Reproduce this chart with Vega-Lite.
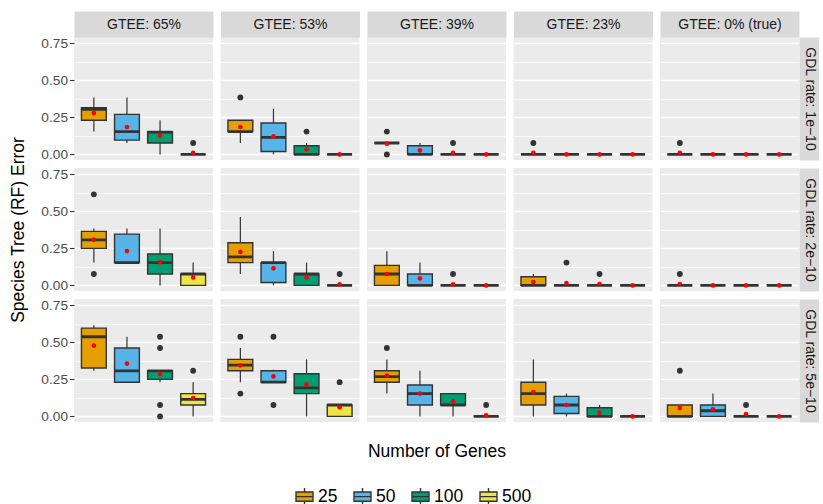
{
"$schema":"https://vega.github.io/schema/vega-lite/v6.json",
"background":"white",
"padding":{"left":9,"top":17,"right":2,"bottom":0},
"autosize":{"type":"pad"},
"data":{"values":[
{"k":"b","r":"1e-10","c":"65%","g":25,"lo":0.154,"q1":0.231,"md":0.305,"q3":0.315,"hi":0.385,"mn":0.279},
{"k":"b","r":"1e-10","c":"65%","g":50,"lo":0.077,"q1":0.096,"md":0.154,"q3":0.27,"hi":0.385,"mn":0.185},
{"k":"b","r":"1e-10","c":"65%","g":100,"lo":0,"q1":0.077,"md":0.15,"q3":0.154,"hi":0.231,"mn":0.125},
{"k":"b","r":"1e-10","c":"65%","g":500,"lo":0,"q1":0,"md":0,"q3":0,"hi":0,"mn":0.011},
{"k":"o","r":"1e-10","c":"65%","g":500,"v":0.077},
{"k":"b","r":"1e-10","c":"53%","g":25,"lo":0.077,"q1":0.154,"md":0.154,"q3":0.231,"hi":0.231,"mn":0.185},
{"k":"o","r":"1e-10","c":"53%","g":25,"v":0.385},
{"k":"b","r":"1e-10","c":"53%","g":50,"lo":0,"q1":0.019,"md":0.115,"q3":0.212,"hi":0.308,"mn":0.121},
{"k":"b","r":"1e-10","c":"53%","g":100,"lo":0,"q1":0,"md":0,"q3":0.058,"hi":0.077,"mn":0.033},
{"k":"o","r":"1e-10","c":"53%","g":100,"v":0.154},
{"k":"b","r":"1e-10","c":"53%","g":500,"lo":0,"q1":0,"md":0,"q3":0,"hi":0,"mn":0},
{"k":"b","r":"1e-10","c":"39%","g":25,"lo":0.077,"q1":0.077,"md":0.077,"q3":0.077,"hi":0.077,"mn":0.072},
{"k":"o","r":"1e-10","c":"39%","g":25,"v":0.154},
{"k":"o","r":"1e-10","c":"39%","g":25,"v":0},
{"k":"b","r":"1e-10","c":"39%","g":50,"lo":0,"q1":0,"md":0,"q3":0.058,"hi":0.077,"mn":0.027},
{"k":"b","r":"1e-10","c":"39%","g":100,"lo":0,"q1":0,"md":0,"q3":0,"hi":0,"mn":0.011},
{"k":"o","r":"1e-10","c":"39%","g":100,"v":0.077},
{"k":"b","r":"1e-10","c":"39%","g":500,"lo":0,"q1":0,"md":0,"q3":0,"hi":0,"mn":0},
{"k":"b","r":"1e-10","c":"23%","g":25,"lo":0,"q1":0,"md":0,"q3":0,"hi":0,"mn":0.011},
{"k":"o","r":"1e-10","c":"23%","g":25,"v":0.077},
{"k":"b","r":"1e-10","c":"23%","g":50,"lo":0,"q1":0,"md":0,"q3":0,"hi":0,"mn":0},
{"k":"b","r":"1e-10","c":"23%","g":100,"lo":0,"q1":0,"md":0,"q3":0,"hi":0,"mn":0},
{"k":"b","r":"1e-10","c":"23%","g":500,"lo":0,"q1":0,"md":0,"q3":0,"hi":0,"mn":0},
{"k":"b","r":"1e-10","c":"0%","g":25,"lo":0,"q1":0,"md":0,"q3":0,"hi":0,"mn":0.011},
{"k":"o","r":"1e-10","c":"0%","g":25,"v":0.077},
{"k":"b","r":"1e-10","c":"0%","g":50,"lo":0,"q1":0,"md":0,"q3":0,"hi":0,"mn":0},
{"k":"b","r":"1e-10","c":"0%","g":100,"lo":0,"q1":0,"md":0,"q3":0,"hi":0,"mn":0},
{"k":"b","r":"1e-10","c":"0%","g":500,"lo":0,"q1":0,"md":0,"q3":0,"hi":0,"mn":0},

{"k":"b","r":"2e-10","c":"65%","g":25,"lo":0.154,"q1":0.25,"md":0.308,"q3":0.365,"hi":0.385,"mn":0.309},
{"k":"o","r":"2e-10","c":"65%","g":25,"v":0.615},
{"k":"o","r":"2e-10","c":"65%","g":25,"v":0.077},
{"k":"b","r":"2e-10","c":"65%","g":50,"lo":0.154,"q1":0.154,"md":0.154,"q3":0.346,"hi":0.385,"mn":0.232},
{"k":"b","r":"2e-10","c":"65%","g":100,"lo":0,"q1":0.077,"md":0.154,"q3":0.212,"hi":0.385,"mn":0.155},
{"k":"b","r":"2e-10","c":"65%","g":500,"lo":0,"q1":0,"md":0.077,"q3":0.077,"hi":0.154,"mn":0.054},
{"k":"b","r":"2e-10","c":"53%","g":25,"lo":0.077,"q1":0.154,"md":0.192,"q3":0.288,"hi":0.462,"mn":0.226},
{"k":"b","r":"2e-10","c":"53%","g":50,"lo":0,"q1":0.019,"md":0.154,"q3":0.154,"hi":0.231,"mn":0.115},
{"k":"b","r":"2e-10","c":"53%","g":100,"lo":0,"q1":0,"md":0.077,"q3":0.077,"hi":0.154,"mn":0.054},
{"k":"b","r":"2e-10","c":"53%","g":500,"lo":0,"q1":0,"md":0,"q3":0,"hi":0,"mn":0.007},
{"k":"o","r":"2e-10","c":"53%","g":500,"v":0.077},
{"k":"b","r":"2e-10","c":"39%","g":25,"lo":0,"q1":0,"md":0.077,"q3":0.135,"hi":0.231,"mn":0.077},
{"k":"b","r":"2e-10","c":"39%","g":50,"lo":0,"q1":0,"md":0,"q3":0.077,"hi":0.154,"mn":0.047},
{"k":"b","r":"2e-10","c":"39%","g":100,"lo":0,"q1":0,"md":0,"q3":0,"hi":0,"mn":0.007},
{"k":"o","r":"2e-10","c":"39%","g":100,"v":0.077},
{"k":"b","r":"2e-10","c":"39%","g":500,"lo":0,"q1":0,"md":0,"q3":0,"hi":0,"mn":0},
{"k":"b","r":"2e-10","c":"23%","g":25,"lo":0,"q1":0,"md":0,"q3":0.058,"hi":0.077,"mn":0.022},
{"k":"b","r":"2e-10","c":"23%","g":50,"lo":0,"q1":0,"md":0,"q3":0,"hi":0,"mn":0.016},
{"k":"o","r":"2e-10","c":"23%","g":50,"v":0.154},
{"k":"b","r":"2e-10","c":"23%","g":100,"lo":0,"q1":0,"md":0,"q3":0,"hi":0,"mn":0.009},
{"k":"o","r":"2e-10","c":"23%","g":100,"v":0.077},
{"k":"b","r":"2e-10","c":"23%","g":500,"lo":0,"q1":0,"md":0,"q3":0,"hi":0,"mn":0},
{"k":"b","r":"2e-10","c":"0%","g":25,"lo":0,"q1":0,"md":0,"q3":0,"hi":0,"mn":0.009},
{"k":"o","r":"2e-10","c":"0%","g":25,"v":0.077},
{"k":"b","r":"2e-10","c":"0%","g":50,"lo":0,"q1":0,"md":0,"q3":0,"hi":0,"mn":0},
{"k":"b","r":"2e-10","c":"0%","g":100,"lo":0,"q1":0,"md":0,"q3":0,"hi":0,"mn":0},
{"k":"b","r":"2e-10","c":"0%","g":500,"lo":0,"q1":0,"md":0,"q3":0,"hi":0,"mn":0},

{"k":"b","r":"5e-10","c":"65%","g":25,"lo":0.308,"q1":0.327,"md":0.538,"q3":0.596,"hi":0.615,"mn":0.478},
{"k":"b","r":"5e-10","c":"65%","g":50,"lo":0.231,"q1":0.231,"md":0.308,"q3":0.462,"hi":0.538,"mn":0.357},
{"k":"b","r":"5e-10","c":"65%","g":100,"lo":0.231,"q1":0.25,"md":0.308,"q3":0.308,"hi":0.308,"mn":0.285},
{"k":"o","r":"5e-10","c":"65%","g":100,"v":0.538},
{"k":"o","r":"5e-10","c":"65%","g":100,"v":0.462},
{"k":"o","r":"5e-10","c":"65%","g":100,"v":0.077},
{"k":"o","r":"5e-10","c":"65%","g":100,"v":0},
{"k":"b","r":"5e-10","c":"65%","g":500,"lo":0,"q1":0.077,"md":0.115,"q3":0.154,"hi":0.231,"mn":0.123},
{"k":"o","r":"5e-10","c":"65%","g":500,"v":0.308},
{"k":"b","r":"5e-10","c":"53%","g":25,"lo":0.231,"q1":0.308,"md":0.346,"q3":0.385,"hi":0.462,"mn":0.345},
{"k":"o","r":"5e-10","c":"53%","g":25,"v":0.538},
{"k":"o","r":"5e-10","c":"53%","g":25,"v":0.154},
{"k":"b","r":"5e-10","c":"53%","g":50,"lo":0.231,"q1":0.231,"md":0.231,"q3":0.308,"hi":0.315,"mn":0.27},
{"k":"o","r":"5e-10","c":"53%","g":50,"v":0.538},
{"k":"o","r":"5e-10","c":"53%","g":50,"v":0.077},
{"k":"b","r":"5e-10","c":"53%","g":100,"lo":0,"q1":0.154,"md":0.192,"q3":0.288,"hi":0.385,"mn":0.216},
{"k":"b","r":"5e-10","c":"53%","g":500,"lo":0,"q1":0,"md":0.077,"q3":0.077,"hi":0.077,"mn":0.061},
{"k":"o","r":"5e-10","c":"53%","g":500,"v":0.231},
{"k":"b","r":"5e-10","c":"39%","g":25,"lo":0.154,"q1":0.231,"md":0.269,"q3":0.308,"hi":0.385,"mn":0.276},
{"k":"o","r":"5e-10","c":"39%","g":25,"v":0.462},
{"k":"b","r":"5e-10","c":"39%","g":50,"lo":0,"q1":0.077,"md":0.154,"q3":0.212,"hi":0.308,"mn":0.154},
{"k":"b","r":"5e-10","c":"39%","g":100,"lo":0,"q1":0.077,"md":0.077,"q3":0.154,"hi":0.154,"mn":0.101},
{"k":"b","r":"5e-10","c":"39%","g":500,"lo":0,"q1":0,"md":0,"q3":0,"hi":0,"mn":0.007},
{"k":"o","r":"5e-10","c":"39%","g":500,"v":0.077},
{"k":"b","r":"5e-10","c":"23%","g":25,"lo":0,"q1":0.077,"md":0.154,"q3":0.231,"hi":0.385,"mn":0.164},
{"k":"b","r":"5e-10","c":"23%","g":50,"lo":0,"q1":0.019,"md":0.077,"q3":0.135,"hi":0.154,"mn":0.077},
{"k":"b","r":"5e-10","c":"23%","g":100,"lo":0,"q1":0,"md":0,"q3":0.058,"hi":0.077,"mn":0.025},
{"k":"b","r":"5e-10","c":"23%","g":500,"lo":0,"q1":0,"md":0,"q3":0,"hi":0,"mn":0},
{"k":"b","r":"5e-10","c":"0%","g":25,"lo":0,"q1":0,"md":0,"q3":0.077,"hi":0.077,"mn":0.056},
{"k":"o","r":"5e-10","c":"0%","g":25,"v":0.308},
{"k":"b","r":"5e-10","c":"0%","g":50,"lo":0,"q1":0,"md":0.038,"q3":0.077,"hi":0.154,"mn":0.047},
{"k":"b","r":"5e-10","c":"0%","g":100,"lo":0,"q1":0,"md":0,"q3":0,"hi":0,"mn":0.016},
{"k":"o","r":"5e-10","c":"0%","g":100,"v":0.077},
{"k":"b","r":"5e-10","c":"0%","g":500,"lo":0,"q1":0,"md":0,"q3":0,"hi":0,"mn":0}
]},
"columns":5,
"spacing":{"row":8,"column":7.5},
"bounds":"flush",
"concat":[
{"width":139,"height":123,"transform":[{"filter":"datum.r=='1e-10' && datum.c=='65%'"}],"encoding":{"x":{"field":"g","type":"nominal","scale":{"type":"band"},"axis":{"orient":"top","title":"GTEE: 65%"}}},"resolve":{"axis":{"y":"independent"}},"layer":[
{"transform":[{"filter":"datum.k=='b'"}],"mark":"rule","encoding":{"y":{"field":"lo","type":"quantitative","scale":{"domain":[-0.038,0.793],"nice":false,"zero":false},"axis":{"grid":true,"values":[0,0.125,0.25,0.375,0.5,0.625,0.75],"labelExpr":"datum.value*4%1 ? '' : format(datum.value,'.2f')","tickOpacity":{"condition":{"test":"datum.value*4%1","value":0},"value":1},"gridWidth":{"condition":{"test":"datum.value*4%1","value":0.6},"value":1.3},"title":null}},"y2":{"field":"hi"}}},
{"transform":[{"filter":"datum.k=='b'"}],"mark":"bar","encoding":{"y":{"field":"q1","type":"quantitative","scale":{"domain":[-0.038,0.793],"nice":false,"zero":false},"axis":null},"y2":{"field":"q3"},"color":{"field":"g","type":"nominal","title":null}}},
{"transform":[{"filter":"datum.k=='b'"}],"mark":"rect","encoding":{"y":{"field":"md","type":"quantitative","scale":{"domain":[-0.038,0.793],"nice":false,"zero":false},"axis":null},"y2":{"field":"md"}}},
{"transform":[{"filter":"datum.k=='o'"}],"mark":"circle","encoding":{"y":{"field":"v","type":"quantitative","scale":{"domain":[-0.038,0.793],"nice":false,"zero":false},"axis":null}}},
{"transform":[{"filter":"datum.k=='b'"}],"mark":"point","encoding":{"y":{"field":"mn","type":"quantitative","scale":{"domain":[-0.038,0.793],"nice":false,"zero":false},"axis":null}}}
]},
{"width":139,"height":123,"transform":[{"filter":"datum.r=='1e-10' && datum.c=='53%'"}],"encoding":{"x":{"field":"g","type":"nominal","scale":{"type":"band"},"axis":{"orient":"top","title":"GTEE: 53%"}}},"resolve":{"axis":{"y":"independent"}},"layer":[
{"transform":[{"filter":"datum.k=='b'"}],"mark":"rule","encoding":{"y":{"field":"lo","type":"quantitative","scale":{"domain":[-0.038,0.793],"nice":false,"zero":false},"axis":{"grid":true,"values":[0,0.125,0.25,0.375,0.5,0.625,0.75],"labels":false,"ticks":false,"gridWidth":{"condition":{"test":"datum.value*4%1","value":0.6},"value":1.3},"title":null}},"y2":{"field":"hi"}}},
{"transform":[{"filter":"datum.k=='b'"}],"mark":"bar","encoding":{"y":{"field":"q1","type":"quantitative","scale":{"domain":[-0.038,0.793],"nice":false,"zero":false},"axis":null},"y2":{"field":"q3"},"color":{"field":"g","type":"nominal","title":null}}},
{"transform":[{"filter":"datum.k=='b'"}],"mark":"rect","encoding":{"y":{"field":"md","type":"quantitative","scale":{"domain":[-0.038,0.793],"nice":false,"zero":false},"axis":null},"y2":{"field":"md"}}},
{"transform":[{"filter":"datum.k=='o'"}],"mark":"circle","encoding":{"y":{"field":"v","type":"quantitative","scale":{"domain":[-0.038,0.793],"nice":false,"zero":false},"axis":null}}},
{"transform":[{"filter":"datum.k=='b'"}],"mark":"point","encoding":{"y":{"field":"mn","type":"quantitative","scale":{"domain":[-0.038,0.793],"nice":false,"zero":false},"axis":null}}}
]},
{"width":139,"height":123,"transform":[{"filter":"datum.r=='1e-10' && datum.c=='39%'"}],"encoding":{"x":{"field":"g","type":"nominal","scale":{"type":"band"},"axis":{"orient":"top","title":"GTEE: 39%"}}},"resolve":{"axis":{"y":"independent"}},"layer":[
{"transform":[{"filter":"datum.k=='b'"}],"mark":"rule","encoding":{"y":{"field":"lo","type":"quantitative","scale":{"domain":[-0.038,0.793],"nice":false,"zero":false},"axis":{"grid":true,"values":[0,0.125,0.25,0.375,0.5,0.625,0.75],"labels":false,"ticks":false,"gridWidth":{"condition":{"test":"datum.value*4%1","value":0.6},"value":1.3},"title":null}},"y2":{"field":"hi"}}},
{"transform":[{"filter":"datum.k=='b'"}],"mark":"bar","encoding":{"y":{"field":"q1","type":"quantitative","scale":{"domain":[-0.038,0.793],"nice":false,"zero":false},"axis":null},"y2":{"field":"q3"},"color":{"field":"g","type":"nominal","title":null}}},
{"transform":[{"filter":"datum.k=='b'"}],"mark":"rect","encoding":{"y":{"field":"md","type":"quantitative","scale":{"domain":[-0.038,0.793],"nice":false,"zero":false},"axis":null},"y2":{"field":"md"}}},
{"transform":[{"filter":"datum.k=='o'"}],"mark":"circle","encoding":{"y":{"field":"v","type":"quantitative","scale":{"domain":[-0.038,0.793],"nice":false,"zero":false},"axis":null}}},
{"transform":[{"filter":"datum.k=='b'"}],"mark":"point","encoding":{"y":{"field":"mn","type":"quantitative","scale":{"domain":[-0.038,0.793],"nice":false,"zero":false},"axis":null}}}
]},
{"width":139,"height":123,"transform":[{"filter":"datum.r=='1e-10' && datum.c=='23%'"}],"encoding":{"x":{"field":"g","type":"nominal","scale":{"type":"band"},"axis":{"orient":"top","title":"GTEE: 23%"}}},"resolve":{"axis":{"y":"independent"}},"layer":[
{"transform":[{"filter":"datum.k=='b'"}],"mark":"rule","encoding":{"y":{"field":"lo","type":"quantitative","scale":{"domain":[-0.038,0.793],"nice":false,"zero":false},"axis":{"grid":true,"values":[0,0.125,0.25,0.375,0.5,0.625,0.75],"labels":false,"ticks":false,"gridWidth":{"condition":{"test":"datum.value*4%1","value":0.6},"value":1.3},"title":null}},"y2":{"field":"hi"}}},
{"transform":[{"filter":"datum.k=='b'"}],"mark":"bar","encoding":{"y":{"field":"q1","type":"quantitative","scale":{"domain":[-0.038,0.793],"nice":false,"zero":false},"axis":null},"y2":{"field":"q3"},"color":{"field":"g","type":"nominal","title":null}}},
{"transform":[{"filter":"datum.k=='b'"}],"mark":"rect","encoding":{"y":{"field":"md","type":"quantitative","scale":{"domain":[-0.038,0.793],"nice":false,"zero":false},"axis":null},"y2":{"field":"md"}}},
{"transform":[{"filter":"datum.k=='o'"}],"mark":"circle","encoding":{"y":{"field":"v","type":"quantitative","scale":{"domain":[-0.038,0.793],"nice":false,"zero":false},"axis":null}}},
{"transform":[{"filter":"datum.k=='b'"}],"mark":"point","encoding":{"y":{"field":"mn","type":"quantitative","scale":{"domain":[-0.038,0.793],"nice":false,"zero":false},"axis":null}}}
]},
{"width":139,"height":123,"transform":[{"filter":"datum.r=='1e-10' && datum.c=='0%'"}],"encoding":{"x":{"field":"g","type":"nominal","scale":{"type":"band"},"axis":{"orient":"top","title":"GTEE: 0% (true)"}}},"resolve":{"axis":{"y":"independent"}},"layer":[
{"transform":[{"filter":"datum.k=='b'"}],"mark":"rule","encoding":{"y":{"field":"lo","type":"quantitative","scale":{"domain":[-0.038,0.793],"nice":false,"zero":false},"axis":{"grid":true,"values":[0,0.125,0.25,0.375,0.5,0.625,0.75],"labels":false,"ticks":false,"gridWidth":{"condition":{"test":"datum.value*4%1","value":0.6},"value":1.3},"title":null}},"y2":{"field":"hi"}}},
{"transform":[{"filter":"datum.k=='b'"}],"mark":"bar","encoding":{"y":{"field":"q1","type":"quantitative","scale":{"domain":[-0.038,0.793],"nice":false,"zero":false},"axis":null},"y2":{"field":"q3"},"color":{"field":"g","type":"nominal","title":null}}},
{"transform":[{"filter":"datum.k=='b'"}],"mark":"rect","encoding":{"y":{"field":"md","type":"quantitative","scale":{"domain":[-0.038,0.793],"nice":false,"zero":false},"axis":null},"y2":{"field":"md"}}},
{"transform":[{"filter":"datum.k=='o'"}],"mark":"circle","encoding":{"y":{"field":"v","type":"quantitative","scale":{"domain":[-0.038,0.793],"nice":false,"zero":false},"axis":null}}},
{"transform":[{"filter":"datum.k=='b'"}],"mark":"point","encoding":{"y":{"field":"mn","type":"quantitative","scale":{"domain":[-0.038,0.793],"nice":false,"zero":false},"axis":{"orient":"right","title":"GDL rate: 1e−10"}}}}
]},

{"width":139,"height":123,"transform":[{"filter":"datum.r=='2e-10' && datum.c=='65%'"}],"encoding":{"x":{"field":"g","type":"nominal","scale":{"type":"band"},"axis":null}},"resolve":{"axis":{"y":"independent"}},"layer":[
{"transform":[{"filter":"datum.k=='b'"}],"mark":"rule","encoding":{"y":{"field":"lo","type":"quantitative","scale":{"domain":[-0.038,0.793],"nice":false,"zero":false},"axis":{"grid":true,"values":[0,0.125,0.25,0.375,0.5,0.625,0.75],"labelExpr":"datum.value*4%1 ? '' : format(datum.value,'.2f')","tickOpacity":{"condition":{"test":"datum.value*4%1","value":0},"value":1},"gridWidth":{"condition":{"test":"datum.value*4%1","value":0.6},"value":1.3},"title":"Species Tree (RF) Error","titlePadding":13}},"y2":{"field":"hi"}}},
{"transform":[{"filter":"datum.k=='b'"}],"mark":"bar","encoding":{"y":{"field":"q1","type":"quantitative","scale":{"domain":[-0.038,0.793],"nice":false,"zero":false},"axis":null},"y2":{"field":"q3"},"color":{"field":"g","type":"nominal","title":null}}},
{"transform":[{"filter":"datum.k=='b'"}],"mark":"rect","encoding":{"y":{"field":"md","type":"quantitative","scale":{"domain":[-0.038,0.793],"nice":false,"zero":false},"axis":null},"y2":{"field":"md"}}},
{"transform":[{"filter":"datum.k=='o'"}],"mark":"circle","encoding":{"y":{"field":"v","type":"quantitative","scale":{"domain":[-0.038,0.793],"nice":false,"zero":false},"axis":null}}},
{"transform":[{"filter":"datum.k=='b'"}],"mark":"point","encoding":{"y":{"field":"mn","type":"quantitative","scale":{"domain":[-0.038,0.793],"nice":false,"zero":false},"axis":null}}}
]},
{"width":139,"height":123,"transform":[{"filter":"datum.r=='2e-10' && datum.c=='53%'"}],"encoding":{"x":{"field":"g","type":"nominal","scale":{"type":"band"},"axis":null}},"resolve":{"axis":{"y":"independent"}},"layer":[
{"transform":[{"filter":"datum.k=='b'"}],"mark":"rule","encoding":{"y":{"field":"lo","type":"quantitative","scale":{"domain":[-0.038,0.793],"nice":false,"zero":false},"axis":{"grid":true,"values":[0,0.125,0.25,0.375,0.5,0.625,0.75],"labels":false,"ticks":false,"gridWidth":{"condition":{"test":"datum.value*4%1","value":0.6},"value":1.3},"title":null}},"y2":{"field":"hi"}}},
{"transform":[{"filter":"datum.k=='b'"}],"mark":"bar","encoding":{"y":{"field":"q1","type":"quantitative","scale":{"domain":[-0.038,0.793],"nice":false,"zero":false},"axis":null},"y2":{"field":"q3"},"color":{"field":"g","type":"nominal","title":null}}},
{"transform":[{"filter":"datum.k=='b'"}],"mark":"rect","encoding":{"y":{"field":"md","type":"quantitative","scale":{"domain":[-0.038,0.793],"nice":false,"zero":false},"axis":null},"y2":{"field":"md"}}},
{"transform":[{"filter":"datum.k=='o'"}],"mark":"circle","encoding":{"y":{"field":"v","type":"quantitative","scale":{"domain":[-0.038,0.793],"nice":false,"zero":false},"axis":null}}},
{"transform":[{"filter":"datum.k=='b'"}],"mark":"point","encoding":{"y":{"field":"mn","type":"quantitative","scale":{"domain":[-0.038,0.793],"nice":false,"zero":false},"axis":null}}}
]},
{"width":139,"height":123,"transform":[{"filter":"datum.r=='2e-10' && datum.c=='39%'"}],"encoding":{"x":{"field":"g","type":"nominal","scale":{"type":"band"},"axis":null}},"resolve":{"axis":{"y":"independent"}},"layer":[
{"transform":[{"filter":"datum.k=='b'"}],"mark":"rule","encoding":{"y":{"field":"lo","type":"quantitative","scale":{"domain":[-0.038,0.793],"nice":false,"zero":false},"axis":{"grid":true,"values":[0,0.125,0.25,0.375,0.5,0.625,0.75],"labels":false,"ticks":false,"gridWidth":{"condition":{"test":"datum.value*4%1","value":0.6},"value":1.3},"title":null}},"y2":{"field":"hi"}}},
{"transform":[{"filter":"datum.k=='b'"}],"mark":"bar","encoding":{"y":{"field":"q1","type":"quantitative","scale":{"domain":[-0.038,0.793],"nice":false,"zero":false},"axis":null},"y2":{"field":"q3"},"color":{"field":"g","type":"nominal","title":null}}},
{"transform":[{"filter":"datum.k=='b'"}],"mark":"rect","encoding":{"y":{"field":"md","type":"quantitative","scale":{"domain":[-0.038,0.793],"nice":false,"zero":false},"axis":null},"y2":{"field":"md"}}},
{"transform":[{"filter":"datum.k=='o'"}],"mark":"circle","encoding":{"y":{"field":"v","type":"quantitative","scale":{"domain":[-0.038,0.793],"nice":false,"zero":false},"axis":null}}},
{"transform":[{"filter":"datum.k=='b'"}],"mark":"point","encoding":{"y":{"field":"mn","type":"quantitative","scale":{"domain":[-0.038,0.793],"nice":false,"zero":false},"axis":null}}}
]},
{"width":139,"height":123,"transform":[{"filter":"datum.r=='2e-10' && datum.c=='23%'"}],"encoding":{"x":{"field":"g","type":"nominal","scale":{"type":"band"},"axis":null}},"resolve":{"axis":{"y":"independent"}},"layer":[
{"transform":[{"filter":"datum.k=='b'"}],"mark":"rule","encoding":{"y":{"field":"lo","type":"quantitative","scale":{"domain":[-0.038,0.793],"nice":false,"zero":false},"axis":{"grid":true,"values":[0,0.125,0.25,0.375,0.5,0.625,0.75],"labels":false,"ticks":false,"gridWidth":{"condition":{"test":"datum.value*4%1","value":0.6},"value":1.3},"title":null}},"y2":{"field":"hi"}}},
{"transform":[{"filter":"datum.k=='b'"}],"mark":"bar","encoding":{"y":{"field":"q1","type":"quantitative","scale":{"domain":[-0.038,0.793],"nice":false,"zero":false},"axis":null},"y2":{"field":"q3"},"color":{"field":"g","type":"nominal","title":null}}},
{"transform":[{"filter":"datum.k=='b'"}],"mark":"rect","encoding":{"y":{"field":"md","type":"quantitative","scale":{"domain":[-0.038,0.793],"nice":false,"zero":false},"axis":null},"y2":{"field":"md"}}},
{"transform":[{"filter":"datum.k=='o'"}],"mark":"circle","encoding":{"y":{"field":"v","type":"quantitative","scale":{"domain":[-0.038,0.793],"nice":false,"zero":false},"axis":null}}},
{"transform":[{"filter":"datum.k=='b'"}],"mark":"point","encoding":{"y":{"field":"mn","type":"quantitative","scale":{"domain":[-0.038,0.793],"nice":false,"zero":false},"axis":null}}}
]},
{"width":139,"height":123,"transform":[{"filter":"datum.r=='2e-10' && datum.c=='0%'"}],"encoding":{"x":{"field":"g","type":"nominal","scale":{"type":"band"},"axis":null}},"resolve":{"axis":{"y":"independent"}},"layer":[
{"transform":[{"filter":"datum.k=='b'"}],"mark":"rule","encoding":{"y":{"field":"lo","type":"quantitative","scale":{"domain":[-0.038,0.793],"nice":false,"zero":false},"axis":{"grid":true,"values":[0,0.125,0.25,0.375,0.5,0.625,0.75],"labels":false,"ticks":false,"gridWidth":{"condition":{"test":"datum.value*4%1","value":0.6},"value":1.3},"title":null}},"y2":{"field":"hi"}}},
{"transform":[{"filter":"datum.k=='b'"}],"mark":"bar","encoding":{"y":{"field":"q1","type":"quantitative","scale":{"domain":[-0.038,0.793],"nice":false,"zero":false},"axis":null},"y2":{"field":"q3"},"color":{"field":"g","type":"nominal","title":null}}},
{"transform":[{"filter":"datum.k=='b'"}],"mark":"rect","encoding":{"y":{"field":"md","type":"quantitative","scale":{"domain":[-0.038,0.793],"nice":false,"zero":false},"axis":null},"y2":{"field":"md"}}},
{"transform":[{"filter":"datum.k=='o'"}],"mark":"circle","encoding":{"y":{"field":"v","type":"quantitative","scale":{"domain":[-0.038,0.793],"nice":false,"zero":false},"axis":null}}},
{"transform":[{"filter":"datum.k=='b'"}],"mark":"point","encoding":{"y":{"field":"mn","type":"quantitative","scale":{"domain":[-0.038,0.793],"nice":false,"zero":false},"axis":{"orient":"right","title":"GDL rate: 2e−10"}}}}
]},

{"width":139,"height":123,"transform":[{"filter":"datum.r=='5e-10' && datum.c=='65%'"}],"encoding":{"x":{"field":"g","type":"nominal","scale":{"type":"band"},"axis":null}},"resolve":{"axis":{"y":"independent"}},"layer":[
{"transform":[{"filter":"datum.k=='b'"}],"mark":"rule","encoding":{"y":{"field":"lo","type":"quantitative","scale":{"domain":[-0.038,0.793],"nice":false,"zero":false},"axis":{"grid":true,"values":[0,0.125,0.25,0.375,0.5,0.625,0.75],"labelExpr":"datum.value*4%1 ? '' : format(datum.value,'.2f')","tickOpacity":{"condition":{"test":"datum.value*4%1","value":0},"value":1},"gridWidth":{"condition":{"test":"datum.value*4%1","value":0.6},"value":1.3},"title":null}},"y2":{"field":"hi"}}},
{"transform":[{"filter":"datum.k=='b'"}],"mark":"bar","encoding":{"y":{"field":"q1","type":"quantitative","scale":{"domain":[-0.038,0.793],"nice":false,"zero":false},"axis":null},"y2":{"field":"q3"},"color":{"field":"g","type":"nominal","title":null}}},
{"transform":[{"filter":"datum.k=='b'"}],"mark":"rect","encoding":{"y":{"field":"md","type":"quantitative","scale":{"domain":[-0.038,0.793],"nice":false,"zero":false},"axis":null},"y2":{"field":"md"}}},
{"transform":[{"filter":"datum.k=='o'"}],"mark":"circle","encoding":{"y":{"field":"v","type":"quantitative","scale":{"domain":[-0.038,0.793],"nice":false,"zero":false},"axis":null}}},
{"transform":[{"filter":"datum.k=='b'"}],"mark":"point","encoding":{"y":{"field":"mn","type":"quantitative","scale":{"domain":[-0.038,0.793],"nice":false,"zero":false},"axis":null}}}
]},
{"width":139,"height":123,"transform":[{"filter":"datum.r=='5e-10' && datum.c=='53%'"}],"encoding":{"x":{"field":"g","type":"nominal","scale":{"type":"band"},"axis":null}},"resolve":{"axis":{"y":"independent"}},"layer":[
{"transform":[{"filter":"datum.k=='b'"}],"mark":"rule","encoding":{"y":{"field":"lo","type":"quantitative","scale":{"domain":[-0.038,0.793],"nice":false,"zero":false},"axis":{"grid":true,"values":[0,0.125,0.25,0.375,0.5,0.625,0.75],"labels":false,"ticks":false,"gridWidth":{"condition":{"test":"datum.value*4%1","value":0.6},"value":1.3},"title":null}},"y2":{"field":"hi"}}},
{"transform":[{"filter":"datum.k=='b'"}],"mark":"bar","encoding":{"y":{"field":"q1","type":"quantitative","scale":{"domain":[-0.038,0.793],"nice":false,"zero":false},"axis":null},"y2":{"field":"q3"},"color":{"field":"g","type":"nominal","title":null}}},
{"transform":[{"filter":"datum.k=='b'"}],"mark":"rect","encoding":{"y":{"field":"md","type":"quantitative","scale":{"domain":[-0.038,0.793],"nice":false,"zero":false},"axis":null},"y2":{"field":"md"}}},
{"transform":[{"filter":"datum.k=='o'"}],"mark":"circle","encoding":{"y":{"field":"v","type":"quantitative","scale":{"domain":[-0.038,0.793],"nice":false,"zero":false},"axis":null}}},
{"transform":[{"filter":"datum.k=='b'"}],"mark":"point","encoding":{"y":{"field":"mn","type":"quantitative","scale":{"domain":[-0.038,0.793],"nice":false,"zero":false},"axis":null}}}
]},
{"width":139,"height":123,"transform":[{"filter":"datum.r=='5e-10' && datum.c=='39%'"}],"encoding":{"x":{"field":"g","type":"nominal","scale":{"type":"band"},"axis":{"orient":"bottom","title":"Number of Genes","labels":false,"ticks":false,"domain":false,"titlePadding":20}}},"resolve":{"axis":{"y":"independent"}},"layer":[
{"transform":[{"filter":"datum.k=='b'"}],"mark":"rule","encoding":{"y":{"field":"lo","type":"quantitative","scale":{"domain":[-0.038,0.793],"nice":false,"zero":false},"axis":{"grid":true,"values":[0,0.125,0.25,0.375,0.5,0.625,0.75],"labels":false,"ticks":false,"gridWidth":{"condition":{"test":"datum.value*4%1","value":0.6},"value":1.3},"title":null}},"y2":{"field":"hi"}}},
{"transform":[{"filter":"datum.k=='b'"}],"mark":"bar","encoding":{"y":{"field":"q1","type":"quantitative","scale":{"domain":[-0.038,0.793],"nice":false,"zero":false},"axis":null},"y2":{"field":"q3"},"color":{"field":"g","type":"nominal","title":null}}},
{"transform":[{"filter":"datum.k=='b'"}],"mark":"rect","encoding":{"y":{"field":"md","type":"quantitative","scale":{"domain":[-0.038,0.793],"nice":false,"zero":false},"axis":null},"y2":{"field":"md"}}},
{"transform":[{"filter":"datum.k=='o'"}],"mark":"circle","encoding":{"y":{"field":"v","type":"quantitative","scale":{"domain":[-0.038,0.793],"nice":false,"zero":false},"axis":null}}},
{"transform":[{"filter":"datum.k=='b'"}],"mark":"point","encoding":{"y":{"field":"mn","type":"quantitative","scale":{"domain":[-0.038,0.793],"nice":false,"zero":false},"axis":null}}}
]},
{"width":139,"height":123,"transform":[{"filter":"datum.r=='5e-10' && datum.c=='23%'"}],"encoding":{"x":{"field":"g","type":"nominal","scale":{"type":"band"},"axis":null}},"resolve":{"axis":{"y":"independent"}},"layer":[
{"transform":[{"filter":"datum.k=='b'"}],"mark":"rule","encoding":{"y":{"field":"lo","type":"quantitative","scale":{"domain":[-0.038,0.793],"nice":false,"zero":false},"axis":{"grid":true,"values":[0,0.125,0.25,0.375,0.5,0.625,0.75],"labels":false,"ticks":false,"gridWidth":{"condition":{"test":"datum.value*4%1","value":0.6},"value":1.3},"title":null}},"y2":{"field":"hi"}}},
{"transform":[{"filter":"datum.k=='b'"}],"mark":"bar","encoding":{"y":{"field":"q1","type":"quantitative","scale":{"domain":[-0.038,0.793],"nice":false,"zero":false},"axis":null},"y2":{"field":"q3"},"color":{"field":"g","type":"nominal","title":null}}},
{"transform":[{"filter":"datum.k=='b'"}],"mark":"rect","encoding":{"y":{"field":"md","type":"quantitative","scale":{"domain":[-0.038,0.793],"nice":false,"zero":false},"axis":null},"y2":{"field":"md"}}},
{"transform":[{"filter":"datum.k=='o'"}],"mark":"circle","encoding":{"y":{"field":"v","type":"quantitative","scale":{"domain":[-0.038,0.793],"nice":false,"zero":false},"axis":null}}},
{"transform":[{"filter":"datum.k=='b'"}],"mark":"point","encoding":{"y":{"field":"mn","type":"quantitative","scale":{"domain":[-0.038,0.793],"nice":false,"zero":false},"axis":null}}}
]},
{"width":139,"height":123,"transform":[{"filter":"datum.r=='5e-10' && datum.c=='0%'"}],"encoding":{"x":{"field":"g","type":"nominal","scale":{"type":"band"},"axis":null}},"resolve":{"axis":{"y":"independent"}},"layer":[
{"transform":[{"filter":"datum.k=='b'"}],"mark":"rule","encoding":{"y":{"field":"lo","type":"quantitative","scale":{"domain":[-0.038,0.793],"nice":false,"zero":false},"axis":{"grid":true,"values":[0,0.125,0.25,0.375,0.5,0.625,0.75],"labels":false,"ticks":false,"gridWidth":{"condition":{"test":"datum.value*4%1","value":0.6},"value":1.3},"title":null}},"y2":{"field":"hi"}}},
{"transform":[{"filter":"datum.k=='b'"}],"mark":"bar","encoding":{"y":{"field":"q1","type":"quantitative","scale":{"domain":[-0.038,0.793],"nice":false,"zero":false},"axis":null},"y2":{"field":"q3"},"color":{"field":"g","type":"nominal","title":null}}},
{"transform":[{"filter":"datum.k=='b'"}],"mark":"rect","encoding":{"y":{"field":"md","type":"quantitative","scale":{"domain":[-0.038,0.793],"nice":false,"zero":false},"axis":null},"y2":{"field":"md"}}},
{"transform":[{"filter":"datum.k=='o'"}],"mark":"circle","encoding":{"y":{"field":"v","type":"quantitative","scale":{"domain":[-0.038,0.793],"nice":false,"zero":false},"axis":null}}},
{"transform":[{"filter":"datum.k=='b'"}],"mark":"point","encoding":{"y":{"field":"mn","type":"quantitative","scale":{"domain":[-0.038,0.793],"nice":false,"zero":false},"axis":{"orient":"right","title":"GDL rate: 5e−10"}}}}
]}
],
"config":{
"font":"Liberation Sans",
"view":{"fill":"#EBEBEB","stroke":null},
"range":{"category":["#E69F00","#56B4E9","#009E73","#F0E442"]},
"scale":{"bandPaddingInner":0.25,"bandPaddingOuter":0.225},
"axis":{"domain":false,"grid":false,"gridColor":"#FFFFFF","labelFont":"Liberation Sans","labelFontSize":13.7,"labelColor":"#4D4D4D","labelPadding":2,"tickColor":"#333333","tickSize":4.5,"tickWidth":1.1,"titleFont":"Liberation Sans","titleFontSize":17.5,"titleFontWeight":"normal","titleColor":"#000000"},
"axisTop":{"domain":true,"domainColor":"#D9D9D9","domainWidth":26,"offset":13,"labels":false,"ticks":false,"grid":false,"titleFontSize":14,"titleColor":"#1A1A1A","titleBaseline":"middle","titleY":0},
"axisRight":{"domain":true,"domainColor":"#D9D9D9","domainWidth":21,"offset":10.5,"labels":false,"ticks":false,"grid":false,"titleFontSize":14,"titleColor":"#1A1A1A","titleAngle":90,"titleBaseline":"middle","titleX":0},
"rule":{"color":"#333333","strokeWidth":1.2},
"bar":{"stroke":"#333333","strokeWidth":1.4},
"rect":{"fill":"transparent","stroke":"#333333","strokeWidth":2.8},
"circle":{"color":"#333333","size":34,"opacity":1},
"point":{"filled":true,"color":"#FF0000","size":22,"opacity":1},
"legend":{"orient":"bottom","direction":"horizontal","labelFont":"Liberation Sans","labelFontSize":17.5,"labelColor":"#000000","symbolType":"M-1,-0.55H1V0.55H-1Z M-1,0H1 M0,-0.55V-1 M0,0.55V1","symbolSize":289,"symbolStrokeColor":"#333333","symbolStrokeWidth":1.2,"labelOffset":4,"columnPadding":13,"offset":27,"layout":{"bottom":{"anchor":"middle"}}}
}
}
